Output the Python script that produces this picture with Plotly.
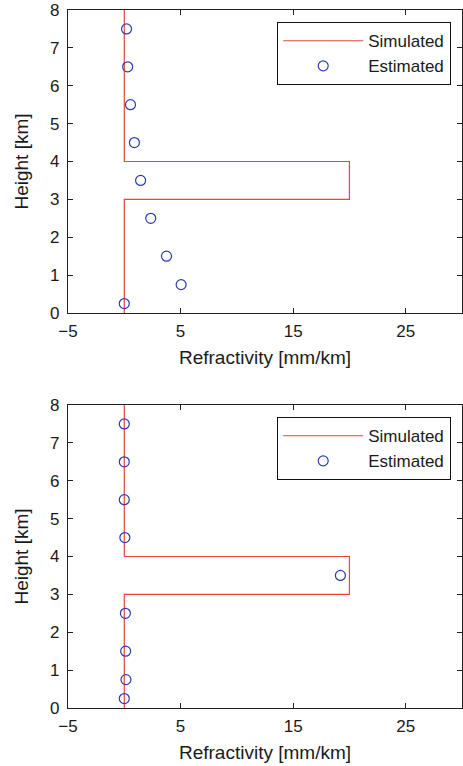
import plotly.graph_objects as go

# Data
sim_height = [8, 4, 4, 3, 3, 0]
sim_refr = [0, 0, 20, 20, 0, 0]

est_height = [7.5, 6.5, 5.5, 4.5, 3.5, 2.5, 1.5, 0.75, 0.25]
est_refr_top = [0.2, 0.3, 0.55, 0.9, 1.45, 2.35, 3.75, 5.05, 0.0]
est_refr_bottom = [0.0, 0.0, 0.0, 0.05, 19.2, 0.1, 0.12, 0.15, 0.0]

x_tickvals = [-5, 5, 15, 25]
x_ticktext = ["\u22125", "5", "15", "25"]
y_tickvals = [0, 1, 2, 3, 4, 5, 6, 7, 8]

RED = "#e8453c"
BLUE = "#2b3cad"
W, H = 463, 766

fig = go.Figure()

for i, (est, leg) in enumerate([(est_refr_top, "legend"), (est_refr_bottom, "legend2")]):
    xa = "x" if i == 0 else "x2"
    ya = "y" if i == 0 else "y2"
    fig.add_trace(go.Scatter(x=sim_refr, y=sim_height, mode="lines",
                             line=dict(color=RED, width=1.2), name="Simulated",
                             xaxis=xa, yaxis=ya, legend=leg))
    fig.add_trace(go.Scatter(x=est, y=est_height, mode="markers",
                             marker=dict(symbol="circle-open", size=10, color=BLUE,
                                         line=dict(width=1.2, color=BLUE)),
                             name="Estimated", xaxis=xa, yaxis=ya, legend=leg))

xd = [68 / W, 462 / W]
top_dom = [(H - 313) / H, (H - 10) / H]
bot_dom = [(H - 708) / H, (H - 405) / H]

axis_common = dict(showline=True, linecolor="#222222", linewidth=1.2, mirror="ticks",
                   ticks="inside", ticklen=5, tickcolor="#222222", showgrid=False,
                   zeroline=False, automargin=False,
                   tickfont=dict(size=17, color="#1a1a1a"))

def xaxis_cfg(anchor):
    return dict(axis_common, domain=xd, range=[-5, 30], tickvals=x_tickvals,
                ticktext=x_ticktext, anchor=anchor, ticklabelstandoff=2,
                title=dict(text="Refractivity [mm/km]", font=dict(size=19, color="#1a1a1a"), standoff=11))

def yaxis_cfg(anchor, dom):
    return dict(axis_common, domain=dom, range=[0, 8], tickvals=y_tickvals, anchor=anchor,
                ticklabelstandoff=4,
                title=dict(text="Height [km]", font=dict(size=19, color="#1a1a1a"), standoff=16))

legend_common = dict(bordercolor="#111111", borderwidth=1.2, bgcolor="white",
                     font=dict(size=17, color="#1a1a1a"), xanchor="right", yanchor="top",
                     tracegroupgap=0, itemwidth=80)

fig.update_layout(
    width=W, height=H,
    margin=dict(l=0, r=0, t=0, b=0),
    paper_bgcolor="white", plot_bgcolor="white",
    font=dict(family="Liberation Sans, Arial, sans-serif", color="#1a1a1a"),
    xaxis=xaxis_cfg("y"),
    yaxis=yaxis_cfg("x", top_dom),
    xaxis2=xaxis_cfg("y2"),
    yaxis2=yaxis_cfg("x2", bot_dom),
    legend=dict(legend_common, x=451 / W, y=(H - 22) / H),
    legend2=dict(legend_common, x=451 / W, y=(H - 417) / H),
)

fig.write_html("out.html")
